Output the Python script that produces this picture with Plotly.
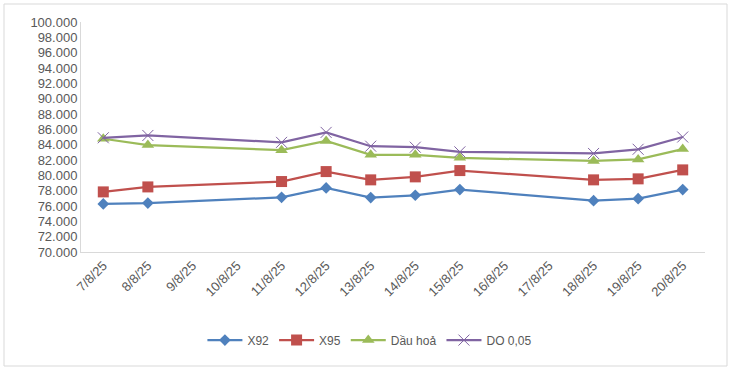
import plotly.graph_objects as go

dates = ["7/8/25", "8/8/25", "9/8/25", "10/8/25", "11/8/25", "12/8/25", "13/8/25",
         "14/8/25", "15/8/25", "16/8/25", "17/8/25", "18/8/25", "19/8/25", "20/8/25"]

x92 = [76.27, 76.38, None, None, 77.13, 78.36, 77.10, 77.40, 78.14, None, None, 76.70, 76.96, 78.14]
x95 = [77.84, 78.49, None, None, 79.19, 80.49, 79.41, 79.80, 80.62, None, None, 79.41, 79.54, 80.71]
dau_hoa = [84.77, 83.95, None, None, 83.28, 84.48, 82.67, 82.67, 82.28, None, None, 81.88, 82.08, 83.42]
do_005 = [84.90, 85.20, None, None, 84.30, 85.60, 83.80, 83.67, 83.06, None, None, 82.85, 83.40, 85.00]

series_names = ["X92", "X95", "Dầu hoả", "DO 0,05"]
y_ticks = [70, 72, 74, 76, 78, 80, 82, 84, 86, 88, 90, 92, 94, 96, 98, 100]
y_tick_labels = ["70.000", "72.000", "74.000", "76.000", "78.000", "80.000", "82.000", "84.000",
                 "86.000", "88.000", "90.000", "92.000", "94.000", "96.000", "98.000", "100.000"]

colors = ["#4F81BD", "#C0504D", "#9BBB59", "#8064A2"]
symbols = ["diamond", "square", "triangle-up", "x-thin-open"]
sizes = [9, 11, 11, 11]

fig = go.Figure()
for name, vals, c, s, sz in zip(series_names, [x92, x95, dau_hoa, do_005], colors, symbols, sizes):
    marker = dict(symbol=s, size=sz, color=c)
    if s == "x-thin-open":
        marker["line"] = dict(color=c, width=1)
    fig.add_trace(go.Scatter(
        x=dates, y=vals, name=name, mode="lines+markers",
        connectgaps=True,
        line=dict(color=c, width=2.25),
        marker=marker,
    ))

font = dict(family="Liberation Sans, Arial, sans-serif", size=13, color="#595959")

fig.update_layout(
    width=731, height=370,
    margin=dict(l=81, r=26, t=22, b=118, autoexpand=False),
    paper_bgcolor="white", plot_bgcolor="white",
    font=font,
    showlegend=True,
    legend=dict(orientation="h", x=0.463, xanchor="center", y=-0.383, yanchor="middle",
                font=dict(family="Liberation Sans, Arial, sans-serif", size=12, color="#595959"),
                itemwidth=35),
    xaxis=dict(type="category", categoryorder="array", categoryarray=dates,
               range=[-0.5, 13.5], tickangle=-45, showgrid=False, automargin=False,
               showline=True, linecolor="#d9d9d9", linewidth=1, ticks="",
               tickfont=font),
    yaxis=dict(range=[70, 100], tickvals=y_ticks, ticktext=y_tick_labels, automargin=False,
               showgrid=False, showline=True, linecolor="#d9d9d9", linewidth=1,
               ticks="", zeroline=False, tickfont=font),
    shapes=[dict(type="rect", xref="paper", yref="paper",
                 x0=(4 - 81) / 624, x1=(727 - 81) / 624,
                 y0=(252 - 366) / 230, y1=(252 - 4) / 230,
                 line=dict(color="#d9d9d9", width=1), fillcolor="rgba(0,0,0,0)", layer="below")],
)

fig.write_html("out.html", config={"displayModeBar": False},
               post_script="document.body.style.margin='0';document.body.style.overflow='hidden';")
